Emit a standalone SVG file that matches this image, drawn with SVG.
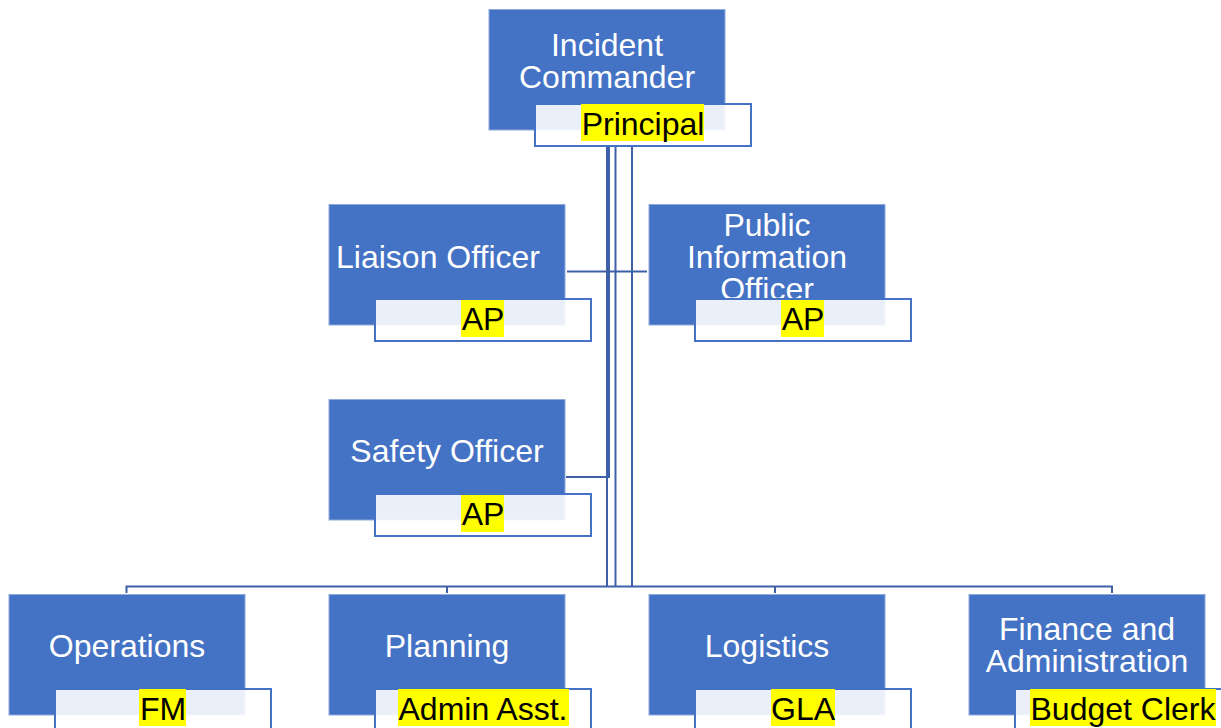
<svg xmlns="http://www.w3.org/2000/svg" width="1221" height="728" viewBox="0 0 1221 728">
<style>
.box{fill:#4472C4;stroke:#8FA9DC;stroke-width:1}
.lab{fill:#FFFFFF;fill-opacity:0.89;stroke:#4472C4;stroke-width:2}
.hl{fill:#FFFF00}
.t{font-family:"Liberation Sans",Arial,sans-serif;font-size:32px;fill:#FFFFFF;text-anchor:middle}
.lt{font-family:"Liberation Sans",Arial,sans-serif;font-size:32px;fill:#000000;text-anchor:middle}
.c{fill:none;stroke:#3D60A8;stroke-width:2}
</style>
<rect width="1221" height="728" fill="#FFFFFF"/>
<g id="connectors">
<line class="c" x1="607" y1="145" x2="607" y2="587"/>
<line class="c" x1="609" y1="145" x2="609" y2="477"/>
<line class="c" x1="615.5" y1="145" x2="615.5" y2="587"/>
<line class="c" x1="632" y1="145" x2="632" y2="587"/>
<line class="c" x1="567" y1="271.5" x2="647" y2="271.5"/>
<line class="c" x1="566" y1="477" x2="610" y2="477"/>
<path class="c" d="M126.5,593 V586.5 H1112 V593"/>
<line class="c" x1="447" y1="586.5" x2="447" y2="593"/>
<line class="c" x1="775" y1="586.5" x2="775" y2="593"/>
</g>
<g id="incident-commander">
<rect class="box" x="489" y="9.5" width="236" height="120.5"/>
<text class="t" x="607" y="56">Incident</text>
<text class="t" x="607" y="88">Commander</text>
<rect class="lab" x="535" y="104" width="216" height="42"/>
<rect class="hl" x="581" y="104" width="123" height="37"/>
<text class="lt" x="643" y="135">Principal</text>
</g>
<g id="liaison-officer">
<rect class="box" x="329" y="204.5" width="236" height="120.5"/>
<text class="t" x="438" y="268">Liaison Officer</text>
<rect class="lab" x="375" y="299" width="216" height="42"/>
<rect class="hl" x="461" y="300" width="43" height="37"/>
<text class="lt" x="483" y="330">AP</text>
</g>
<g id="public-information-officer">
<rect class="box" x="649" y="204.5" width="236" height="120.5"/>
<text class="t" x="767" y="236">Public</text>
<text class="t" x="767" y="268">Information</text>
<text class="t" x="767" y="300">Officer</text>
<rect class="lab" x="695" y="299" width="216" height="42"/>
<rect class="hl" x="781" y="300" width="43" height="37"/>
<text class="lt" x="803" y="330">AP</text>
</g>
<g id="safety-officer">
<rect class="box" x="329" y="399.5" width="236" height="120.5"/>
<text class="t" x="447" y="462">Safety Officer</text>
<rect class="lab" x="375" y="494" width="216" height="42"/>
<rect class="hl" x="461" y="495" width="43" height="37"/>
<text class="lt" x="483" y="525">AP</text>
</g>
<g id="operations">
<rect class="box" x="9" y="594.5" width="236" height="120.5"/>
<text class="t" x="127" y="657">Operations</text>
<rect class="lab" x="55" y="689" width="216" height="42"/>
<rect class="hl" x="139" y="689" width="47" height="37"/>
<text class="lt" x="163" y="720">FM</text>
</g>
<g id="planning">
<rect class="box" x="329" y="594.5" width="236" height="120.5"/>
<text class="t" x="447" y="657">Planning</text>
<rect class="lab" x="375" y="689" width="216" height="42"/>
<rect class="hl" x="398" y="689" width="171" height="37"/>
<text class="lt" x="483" y="720">Admin Asst.</text>
</g>
<g id="logistics">
<rect class="box" x="649" y="594.5" width="236" height="120.5"/>
<text class="t" x="767" y="657">Logistics</text>
<rect class="lab" x="695" y="689" width="216" height="42"/>
<rect class="hl" x="771" y="689" width="64" height="37"/>
<text class="lt" x="803" y="720">GLA</text>
</g>
<g id="finance-and-administration">
<rect class="box" x="969" y="594.5" width="236" height="120.5"/>
<text class="t" x="1087" y="640">Finance and</text>
<text class="t" x="1087" y="672">Administration</text>
<rect class="lab" x="1015" y="689" width="216" height="42"/>
<rect class="hl" x="1030" y="689" width="186" height="37"/>
<text class="lt" x="1123" y="720">Budget Clerk</text>
</g>
</svg>
